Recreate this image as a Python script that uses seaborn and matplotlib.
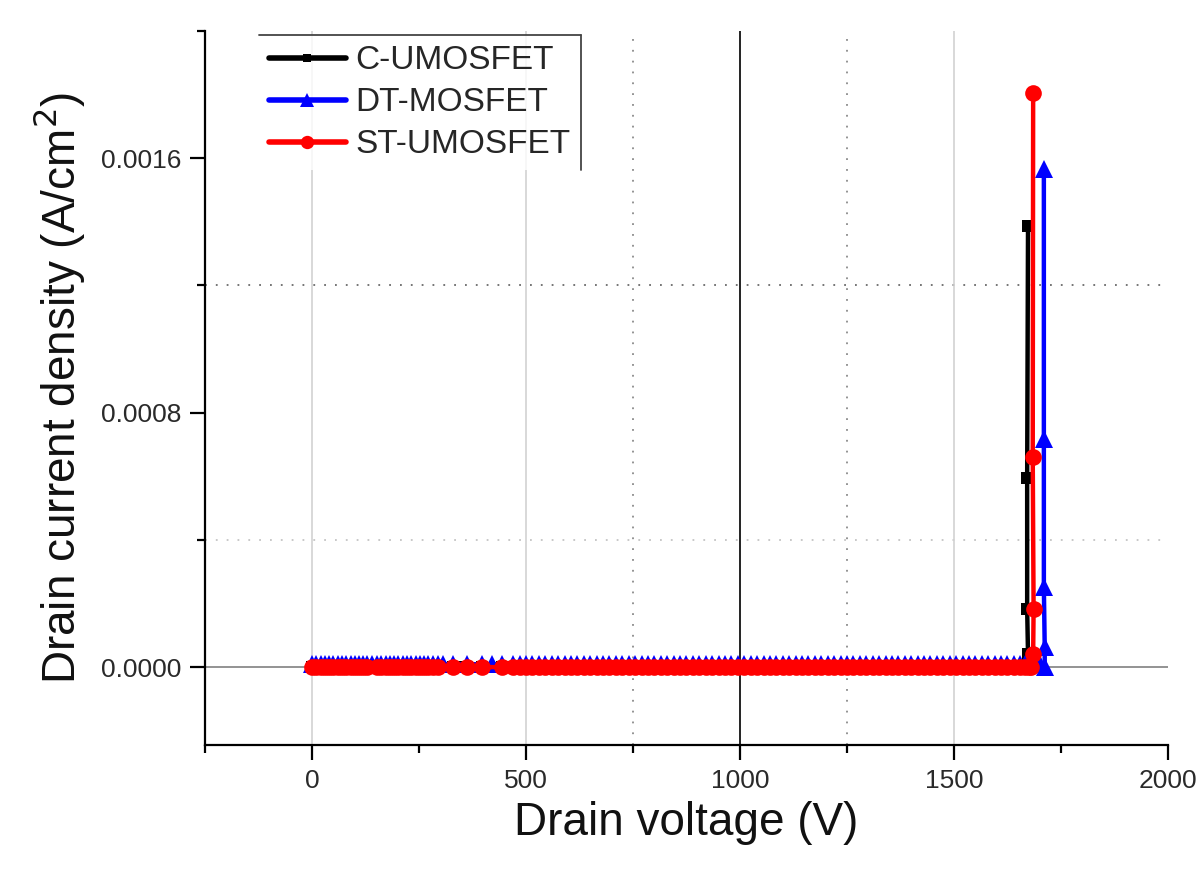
import matplotlib
matplotlib.use("Agg")
import matplotlib.pyplot as plt
import seaborn as sns
import pandas as pd
from matplotlib.ticker import MultipleLocator, FixedLocator, FuncFormatter

sns.set_theme(style="white")
plt.rcParams['font.family'] = ['Liberation Sans', 'DejaVu Sans']

# ---- data ----
series_names = ["C-UMOSFET", "DT-MOSFET", "ST-UMOSFET"]

# off-state sweep voltages (V)
sweep_red = [0, 10, 20, 30, 40, 50, 60, 70, 80, 90, 100, 110, 120, 128,
             152, 162, 172, 182, 192, 202, 212, 222, 232, 242, 252, 262, 272, 282, 294,
             330, 362, 397, 444,
             470, 485, 500, 515, 530, 545, 560, 575, 590, 605, 620, 635, 650, 665, 680,
             695, 710, 725, 740, 755, 770, 785, 800, 815, 830, 845, 860, 875, 890, 905,
             920, 935, 950, 965, 980, 995, 1010, 1025, 1040, 1055, 1070, 1085, 1100, 1115,
             1130, 1145, 1160, 1175, 1190, 1205, 1220, 1235, 1250, 1265, 1280, 1295, 1310,
             1325, 1340, 1355, 1370, 1385, 1400, 1415, 1430, 1445, 1460, 1475, 1490, 1505,
             1520, 1535, 1550, 1565, 1580, 1595, 1610, 1625, 1640, 1655, 1665, 1675, 1680]
sweep_blue_extra = [140, 306, 420, 1688, 1695, 1700]
sweep_black_extra = [346]

# breakdown spike points (V, A/cm2)
c_spike_v = [1670, 1673, 1671, 1671, 1673]
c_spike_j = [0.0, 0.00004, 0.000182, 0.000596, 0.001387]

dt_spike_v = [1712, 1712, 1710, 1710, 1710]
dt_spike_j = [0.0, 0.0000627, 0.000251, 0.000718, 0.001565]

st_spike_v = [1685, 1686, 1684, 1685]
st_spike_j = [0.00004, 0.000182, 0.000662, 0.001804]

c_flat_v = sorted(sweep_red[:-2] + sweep_black_extra)
c_flat_j = [0.0] * len(c_flat_v)
dt_flat_v = sorted(sweep_red + sweep_blue_extra)
dt_flat_j = [0.000009] * len(dt_flat_v)
st_flat_v = sweep_red
st_flat_j = [0.0] * len(st_flat_v)

c_v = c_flat_v + c_spike_v
c_j = c_flat_j + c_spike_j
dt_v = dt_flat_v + dt_spike_v
dt_j = dt_flat_j + dt_spike_j
st_v = st_flat_v + st_spike_v
st_j = st_flat_j + st_spike_j

xticks_major = [0, 500, 1000, 1500, 2000]
yticks_major = [0.0, 0.0008, 0.0016]

# ---- figure ----
fig = plt.figure(figsize=(12.01, 8.84), dpi=100)
ax = fig.add_axes([0.1707, 0.1572, 0.8018, 0.8078])

# reference / grid lines
ax.axhline(0.0, color="#8a8a8a", lw=1.3, zorder=1)
ax.axhline(0.0004, color="#c4c4c4", lw=1.3, ls=(0, (1, 5)), zorder=1)
ax.axhline(0.0012, color="#6a6a6a", lw=1.3, ls=(0, (1, 5)), zorder=1)
for xv in (0, 500, 1500):
    ax.axvline(xv, color="#d2d2d2", lw=1.2, zorder=1)
for xv in (750, 1250):
    ax.axvline(xv, color="#8a8a8a", lw=1.3, ls=(0, (1, 5)), zorder=1)
ax.axvline(1000, color="#222222", lw=1.4, zorder=1)

sns.lineplot(x=c_v, y=c_j, sort=False, estimator=None, ax=ax, color="black",
             lw=3.2, marker="s", markersize=8, markeredgewidth=0, label=series_names[0], zorder=3)
sns.lineplot(x=dt_v, y=dt_j, sort=False, estimator=None, ax=ax, color="#0000ff",
             lw=3.2, marker="^", markersize=13, markeredgewidth=0, label=series_names[1], zorder=3)
sns.lineplot(x=st_v, y=st_j, sort=False, estimator=None, ax=ax, color="#ff0000",
             lw=3.2, marker="o", markersize=12, markeredgewidth=0, label=series_names[2], zorder=4)

ax.set_xlim(-250, 2000)
ax.set_ylim(-0.000245, 0.002)

ax.xaxis.set_major_locator(FixedLocator(xticks_major))
ax.xaxis.set_minor_locator(FixedLocator([-250, 250, 750, 1250, 1750]))
ax.yaxis.set_major_locator(FixedLocator(yticks_major))
ax.yaxis.set_minor_locator(FixedLocator([0.0004, 0.0012, 0.002]))
ax.yaxis.set_major_formatter(FuncFormatter(lambda v, p: f"{v:.4f}"))

ax.tick_params(axis="both", which="major", direction="out", length=11, width=1.6,
               color="black", labelsize=19, labelcolor="#2a2a2a", bottom=True, left=True, pad=6)
ax.tick_params(axis="both", which="minor", direction="out", length=6, width=1.6,
               color="black", bottom=True, left=True)

for s in ("top", "right"):
    ax.spines[s].set_visible(False)
for s in ("left", "bottom"):
    ax.spines[s].set_color("black")
    ax.spines[s].set_linewidth(1.6)

ax.set_xlabel("Drain voltage (V)", fontsize=33, color="#111111", labelpad=6)
ax.set_ylabel("Drain current density (A/cm$^2$)", fontsize=33, color="#111111", labelpad=10)

leg = ax.legend(loc="upper left", bbox_to_anchor=(0.056, 0.994), fontsize=24,
                frameon=True, fancybox=False, borderpad=0.3, handlelength=2.3,
                handletextpad=0.3, labelspacing=0.33, borderaxespad=0, markerscale=0.8)
leg.get_frame().set_facecolor("white")
leg.get_frame().set_edgecolor("white")
leg.get_frame().set_linewidth(0)
leg.set_zorder(5)
for h in leg.get_lines():
    h.set_linewidth(4)

# partial legend frame (top and right edges)
fig.canvas.draw()
bb = leg.get_window_extent().transformed(ax.transAxes.inverted())
ax.plot([bb.x0, bb.x1], [bb.y1, bb.y1], color="#444444", lw=1.3,
        transform=ax.transAxes, clip_on=False, zorder=6)
ax.plot([bb.x1, bb.x1], [bb.y0, bb.y1], color="#444444", lw=1.3,
        transform=ax.transAxes, clip_on=False, zorder=6)

fig.savefig("out.png", dpi=100)
